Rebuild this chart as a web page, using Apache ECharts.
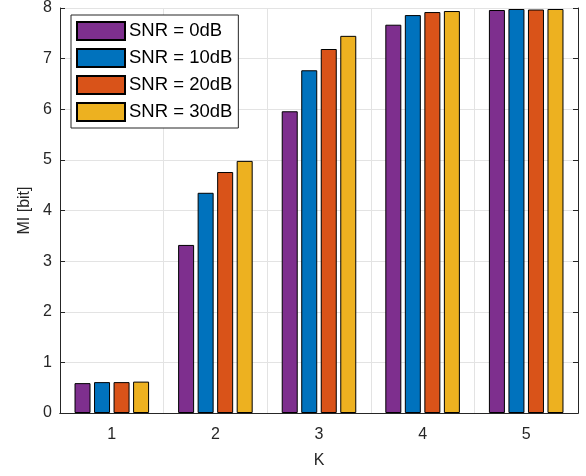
<!DOCTYPE html>
<html><head><meta charset="utf-8">
<script src="https://cdn.jsdelivr.net/npm/echarts@6/dist/echarts.min.js"></script>
<style>html,body{margin:0;padding:0;background:#fff}#c{width:586px;height:476px}</style>
</head><body><div id="c"></div>
<script>
const categories = ['1', '2', '3', '4', '5'];
const seriesNames = ['SNR = 0dB', 'SNR = 10dB', 'SNR = 20dB', 'SNR = 30dB'];
const snr0 = [0.59, 3.32, 5.96, 7.67, 7.96];
const snr10 = [0.61, 4.35, 6.77, 7.86, 7.98];
const snr20 = [0.61, 4.76, 7.19, 7.92, 7.97];
const snr30 = [0.62, 4.98, 7.45, 7.94, 7.98];
const yTicks = [0, 1, 2, 3, 4, 5, 6, 7, 8];

const colors = ['#7E2F8E', '#0072BD', '#D95319', '#EDB120'];
const values = [snr0, snr10, snr20, snr30];
const font = 'Liberation Sans, Arial, Helvetica, sans-serif';
const axisColor = '#262626';

const chart = echarts.init(document.getElementById('c'));
chart.setOption({
  animation: false,
  textStyle: { fontFamily: font },
  grid: { left: 60, right: 8, top: 8, bottom: 63 },
  legend: {
    orient: 'vertical', left: 71, top: 15,
    itemWidth: 48, itemHeight: 18, itemGap: 7,
    padding: [6, 6, 6, 5],
    backgroundColor: '#fff', borderColor: axisColor, borderWidth: 1,
    icon: 'rect',
    textStyle: { fontSize: 18.5, color: '#000', fontFamily: font, padding: [0, 0, 0, -1] },
    data: seriesNames
  },
  xAxis: [{
    type: 'category', data: categories, boundaryGap: true,
    name: 'K', nameLocation: 'middle', nameGap: 40,
    nameTextStyle: { fontSize: 16, color: axisColor },
    axisLine: { lineStyle: { color: axisColor, width: 1 } },
    axisTick: { alignWithLabel: true, inside: true, length: 5, lineStyle: { color: axisColor } },
    axisLabel: { fontSize: 16, color: axisColor, margin: 14 },
    splitLine: { show: true, interval: 0, lineStyle: { color: '#e3e3e3' } }
  }, {
    type: 'category', data: categories, position: 'top', boundaryGap: true,
    axisLine: { lineStyle: { color: axisColor, width: 1 } },
    axisTick: { alignWithLabel: true, inside: true, length: 5, lineStyle: { color: axisColor } },
    axisLabel: { show: false }, splitLine: { show: false }
  }],
  yAxis: [{
    type: 'value', min: 0, max: 8, interval: 1,
    name: 'MI [bit]', nameLocation: 'middle', nameGap: 27,
    nameTextStyle: { fontSize: 16, color: axisColor },
    axisLine: { show: true, lineStyle: { color: axisColor, width: 1 } },
    axisTick: { show: true, inside: true, length: 5, lineStyle: { color: axisColor } },
    axisLabel: { fontSize: 16, color: axisColor, margin: 8, formatter: v => yTicks.includes(v) ? String(v) : '' },
    splitLine: { show: true, lineStyle: { color: '#e3e3e3' } }
  }, {
    type: 'value', min: 0, max: 8, interval: 1, position: 'right',
    axisLine: { show: true, lineStyle: { color: axisColor, width: 1 } },
    axisTick: { show: true, inside: true, length: 5, lineStyle: { color: axisColor } },
    axisLabel: { show: false }, splitLine: { show: false }
  }],
  series: seriesNames.map((n, i) => ({
    name: n, type: 'bar', data: values[i],
    xAxisIndex: 0, yAxisIndex: 0,
    barWidth: 16, barGap: '22%',
    itemStyle: { color: colors[i], borderColor: '#000', borderWidth: 1 }
  }))
});
</script></body></html>
